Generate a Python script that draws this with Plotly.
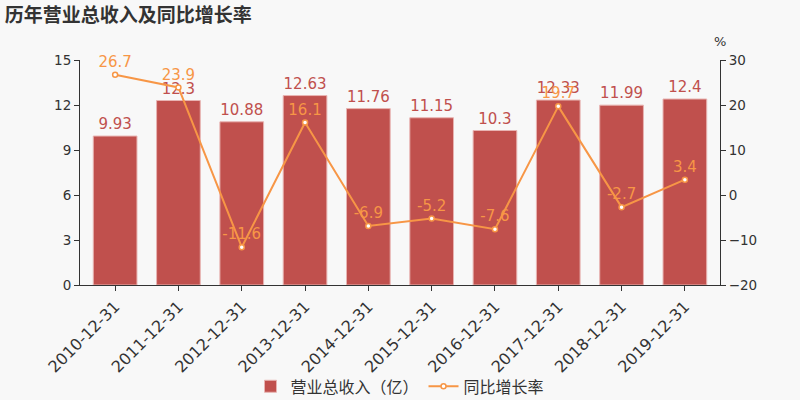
import plotly.graph_objects as go

categories = ["2010-12-31", "2011-12-31", "2012-12-31", "2013-12-31", "2014-12-31",
              "2015-12-31", "2016-12-31", "2017-12-31", "2018-12-31", "2019-12-31"]
revenue = [9.93, 12.3, 10.88, 12.63, 11.76, 11.15, 10.3, 12.33, 11.99, 12.4]
growth = [26.7, 23.9, -11.6, 16.1, -6.9, -5.2, -7.6, 19.7, -2.7, 3.4]

bar_color = "#c0504d"
line_color = "#f79646"
font = "DejaVu Sans, Noto Sans CJK SC, sans-serif"
cjk = "Noto Sans CJK SC, DejaVu Sans, sans-serif"

fig = go.Figure()
fig.add_trace(go.Bar(
    x=categories, y=revenue, name="营业总收入（亿）",
    marker=dict(color=bar_color, line=dict(color="#e8b4b2", width=1)),
    width=0.69,
    text=[str(v) for v in revenue], textposition="outside",
    textfont=dict(color=bar_color, size=15, family=font), cliponaxis=False,
))
fig.add_trace(go.Scatter(
    x=categories, y=growth, name="同比增长率", yaxis="y2",
    mode="lines+markers+text",
    line=dict(color=line_color, width=2),
    marker=dict(color="white", size=5, line=dict(color=line_color, width=1.5)),
    text=[str(v) for v in growth], textposition="top center",
    textfont=dict(color=line_color, size=15, family=font), cliponaxis=False,
))

fig.update_layout(
    width=800, height=400,
    paper_bgcolor="#f8f8f8", plot_bgcolor="#f8f8f8",
    font=dict(family=font, color="#333333"),
    margin=dict(l=80, r=80, t=60, b=115, autoexpand=False),
    title=dict(text="<b>历年营业总收入及同比增长率</b>", x=0.006, y=0.962,
               xanchor="left", yanchor="middle",
               font=dict(size=19, color="#333333", family=cjk)),
    xaxis=dict(type="category", tickangle=-45, tickfont=dict(size=16, color="#333333"),
               showline=True, linecolor="#333333", ticks="outside", ticklen=5,
               tickcolor="#333333", showgrid=False),
    yaxis=dict(range=[0, 15], dtick=3, showline=True, linecolor="#333333",
               ticks="outside", ticklen=5, tickcolor="#333333", showgrid=False,
               zeroline=False, tickfont=dict(size=13.5, color="#333333")),
    yaxis2=dict(range=[-20, 30], dtick=10, overlaying="y", side="right",
                showline=True, linecolor="#333333", ticks="outside", ticklen=5,
                tickcolor="#333333", showgrid=False, zeroline=False,
                tickfont=dict(size=13.5, color="#333333")),
    legend=dict(orientation="h", x=0.5, xanchor="center", y=-0.375, yanchor="top",
                font=dict(size=16, color="#333333", family=cjk), bgcolor="rgba(0,0,0,0)"),
    annotations=[dict(text="%", xref="paper", yref="paper", x=1.0, y=1.04,
                      xanchor="center", yanchor="bottom", showarrow=False,
                      font=dict(size=13, color="#333333"))],
    showlegend=True,
)
fig.write_html(
    "out.html",
    config={"displayModeBar": False},
    post_script="document.body.style.margin='0';document.body.style.background='#f8f8f8';",
)
